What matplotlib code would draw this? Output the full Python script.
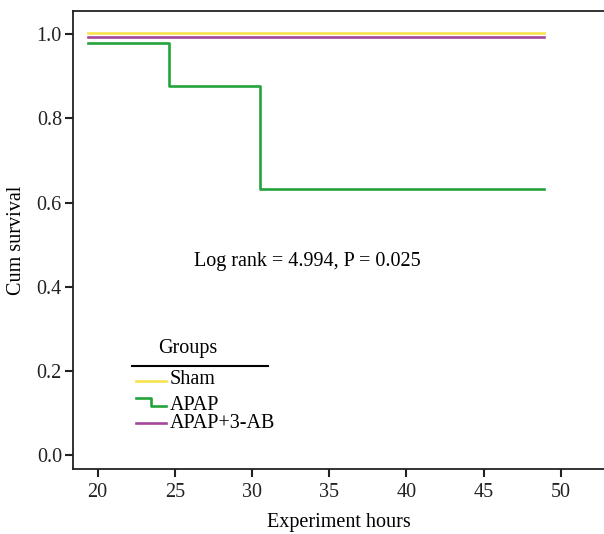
import matplotlib.pyplot as plt
import numpy as np

plt.rcParams['font.family'] = ['Liberation Serif', 'DejaVu Serif']

# step data (hours, cumulative survival)
sham_t = [19.4, 48.9]
sham_s = [1.003, 1.003]
apap_t = [19.4, 24.6, 30.5, 48.9]
apap_s = [0.979, 0.876, 0.633, 0.633]
ab_t = [19.4, 48.9]
ab_s = [0.993, 0.993]

group_names = ['Sham', 'APAP', 'APAP+3-AB']
colors = ['#f7e34d', '#22a33b', '#a3479c']
xticks = [20, 25, 30, 35, 40, 45, 50]
yticks = [0.0, 0.2, 0.4, 0.6, 0.8, 1.0]

fs = 14.5

fig = plt.figure(figsize=(6.04, 5.34), dpi=100)
ax = fig.add_axes([73 / 604, 1 - 469 / 534, 531 / 604, 458 / 534])

lw = 1.9
ax.step(sham_t, sham_s, where='post', color=colors[0], lw=lw)
ax.step(ab_t, ab_s, where='post', color=colors[2], lw=lw)
ax.step(apap_t, apap_s, where='post', color=colors[1], lw=lw)

ax.set_xlim(18.41, 52.8)
ax.set_ylim(-0.033, 1.055)
ax.set_xticks(xticks)
ax.set_yticks(yticks)
ax.set_yticklabels(['%.1f' % v for v in yticks])
ax.spines['right'].set_visible(False)
for s in ['left', 'bottom', 'top']:
    ax.spines[s].set_linewidth(1.3)
    ax.spines[s].set_color('#222222')
ax.tick_params(direction='out', length=6, width=1.5, labelsize=fs, colors='#222222')
ax.tick_params(axis='x', pad=4)
ax.tick_params(axis='y', pad=2)
ax.set_xlabel('Experiment hours', fontsize=fs, labelpad=8)
ax.set_ylabel('Cum survival', fontsize=fs, labelpad=8)

ax.text(0.441, 0.452, 'Log rank = 4.994, P = 0.025', transform=ax.transAxes,
        ha='center', va='center', fontsize=fs)

# legend drawn by hand to mimic the SPSS style
def fx(px):
    return (px - 73) / 531

def fy(py):
    return (469 - py) / 458

ax.text(fx(188), fy(349), 'Groups', transform=ax.transAxes, ha='center', va='center', fontsize=fs)
ax.plot([fx(132), fx(268)], [fy(366), fy(366)], transform=ax.transAxes, color='black', lw=1.5,
        clip_on=False)
ax.plot([fx(136), fx(166)], [fy(381), fy(381)], transform=ax.transAxes, color=colors[0], lw=lw)
ax.plot([fx(136), fx(151), fx(151), fx(166)], [fy(398), fy(398), fy(406), fy(406)],
        transform=ax.transAxes, color=colors[1], lw=lw)
ax.plot([fx(136), fx(166)], [fy(423), fy(423)], transform=ax.transAxes, color=colors[2], lw=lw)
for name, py in zip(group_names, [380, 405, 423]):
    ax.text(fx(170), fy(py), name, transform=ax.transAxes, ha='left', va='center', fontsize=fs)

plt.savefig('out.png', dpi=100)
